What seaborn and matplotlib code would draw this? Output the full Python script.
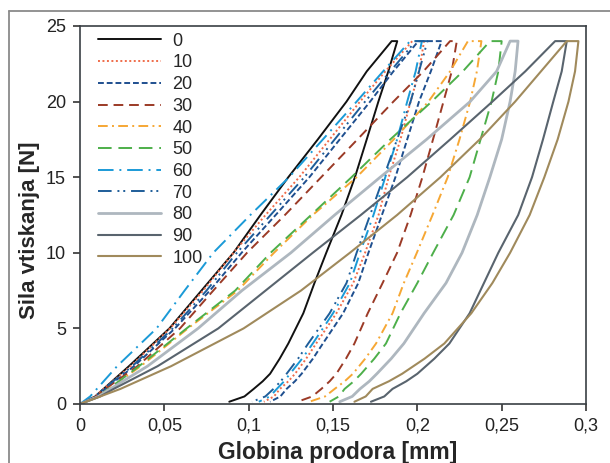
import matplotlib
matplotlib.use("Agg")
import matplotlib.pyplot as plt
from matplotlib.lines import Line2D
import seaborn as sns
import pandas as pd

F_LOAD = [0, 0.5, 1, 2.5, 5, 7.5, 10, 12.5, 15, 17.5, 20, 22, 24]
F_UNLOAD = [24, 22, 20, 17.5, 15, 12.5, 10, 8, 6, 4, 3, 2, 1.5, 1, 0.5, 0.15]

# depth (mm), loading branch
load_0 = [0, 0.009, 0.014, 0.029, 0.053, 0.072, 0.091, 0.107, 0.1235, 0.141, 0.158, 0.170, 0.1848]
load_10 = [0, 0.009, 0.014, 0.030, 0.0534, 0.073, 0.091, 0.110, 0.130, 0.148, 0.166, 0.181, 0.197]
load_20 = [0, 0.010, 0.015, 0.032, 0.0563, 0.077, 0.0958, 0.116, 0.136, 0.154, 0.172, 0.1858, 0.2006]
load_30 = [0, 0.010, 0.015, 0.034, 0.0593, 0.079, 0.099, 0.1215, 0.143, 0.1645, 0.1858, 0.2036, 0.2194]
load_40 = [0, 0.011, 0.017, 0.036, 0.064, 0.0935, 0.115, 0.138, 0.164, 0.186, 0.2066, 0.2194, 0.230]
load_50 = [0, 0.011, 0.017, 0.035, 0.0632, 0.092, 0.113, 0.137, 0.161, 0.184, 0.2085, 0.227, 0.2431]
load_60 = [0, 0.006, 0.010, 0.022, 0.0454, 0.062, 0.079, 0.101, 0.124, 0.144, 0.164, 0.1797, 0.1957]
load_70 = [0, 0.009, 0.014, 0.031, 0.055, 0.075, 0.093, 0.113, 0.133, 0.151, 0.169, 0.184, 0.199]
load_80 = [0, 0.011, 0.018, 0.040, 0.070, 0.096, 0.125, 0.151, 0.178, 0.2055, 0.2313, 0.247, 0.255]
load_90 = [0, 0.012, 0.020, 0.046, 0.082, 0.110, 0.138, 0.1665, 0.194, 0.2195, 0.2445, 0.264, 0.2817]
load_100 = [0, 0.012, 0.024, 0.054, 0.097, 0.131, 0.160, 0.188, 0.2137, 0.237, 0.258, 0.2733, 0.2886]

# depth (mm), unloading branch
unload_0 = [0.1881, 0.1828, 0.1769, 0.170, 0.163, 0.155, 0.146, 0.139, 0.1324, 0.1235, 0.1184,
            0.1127, 0.1083, 0.103, 0.0975, 0.0885]
unload_10 = [0.204, 0.201, 0.196, 0.190, 0.183, 0.177, 0.169, 0.162, 0.152, 0.140, 0.1341,
             0.1275, 0.1235, 0.1186, 0.1150, 0.109]
unload_20 = [0.2144, 0.208, 0.201, 0.194, 0.187, 0.179, 0.171, 0.165, 0.156, 0.144, 0.1381,
             0.1314, 0.1274, 0.1225, 0.1188, 0.1127]
unload_30 = [0.2234, 0.2204, 0.2155, 0.2093, 0.203, 0.196, 0.188, 0.1794, 0.1706, 0.1627, 0.1577,
             0.152, 0.148, 0.1431, 0.1377, 0.129]
unload_40 = [0.238, 0.2353, 0.2313, 0.225, 0.218, 0.209, 0.1997, 0.192, 0.1853, 0.1755, 0.1691,
             0.1618, 0.1569, 0.151, 0.1453, 0.136]
unload_50 = [0.250, 0.248, 0.244, 0.2375, 0.231, 0.2215, 0.2094, 0.200, 0.190, 0.1814, 0.1745,
             0.1667, 0.1623, 0.1569, 0.1535, 0.148]
unload_60 = [0.2027, 0.199, 0.194, 0.188, 0.181, 0.174, 0.166, 0.160, 0.150, 0.138, 0.1317,
             0.1245, 0.1210, 0.1167, 0.1126, 0.106]
unload_70 = [0.206, 0.201, 0.196, 0.188, 0.180, 0.172, 0.164, 0.158, 0.148, 0.1353, 0.1293,
             0.1225, 0.1190, 0.1147, 0.1099, 0.102]
unload_80 = [0.2597, 0.258, 0.255, 0.250, 0.243, 0.2355, 0.2265, 0.217, 0.204, 0.192, 0.1845,
             0.176, 0.1715, 0.166, 0.1614, 0.154]
unload_90 = [0.2886, 0.2856, 0.2806, 0.2745, 0.268, 0.2598, 0.248, 0.2395, 0.231, 0.219, 0.2101,
             0.200, 0.1934, 0.1853, 0.1804, 0.1725]
unload_100 = [0.2955, 0.2935, 0.2896, 0.2832, 0.2753, 0.2666, 0.255, 0.2445, 0.232, 0.216, 0.2043,
              0.191, 0.1831, 0.1735, 0.1694, 0.1627]

labels = ["0", "10", "20", "30", "40", "50", "60", "70", "80", "90", "100"]
loads = [load_0, load_10, load_20, load_30, load_40, load_50, load_60, load_70, load_80, load_90, load_100]
unloads = [unload_0, unload_10, unload_20, unload_30, unload_40, unload_50, unload_60, unload_70,
           unload_80, unload_90, unload_100]

x_ticks = [0, 0.05, 0.1, 0.15, 0.2, 0.25, 0.3]
x_ticklabels = ["0", "0,05", "0,1", "0,15", "0,2", "0,25", "0,3"]
y_ticks = [0, 5, 10, 15, 20, 25]

colors = ["#111111", "#EF6C4A", "#1F4F8F", "#9B3A26", "#F6A734", "#4DAF4A",
          "#1B9AD7", "#1E5D99", "#AEB7BF", "#59646E", "#A08A5C"]
styles = ["-", (0, (1, 1.3)), (0, (3, 1.5)), (0, (5, 3)), (0, (5, 2.2, 1, 2.2)),
          (0, (7, 3.5)), (0, (8, 3, 1, 3)), (0, (7, 3, 1, 2, 1, 3)), "-", "-", "-"]
widths = [1.4, 1.4, 1.4, 1.4, 1.4, 1.4, 1.4, 1.4, 2.0, 1.5, 1.5]

sns.set_theme(style="white")
plt.rcParams["font.family"] = ["Liberation Sans", "DejaVu Sans"]

fig = plt.figure(figsize=(6.1, 4.63), dpi=100)
ax = fig.add_axes([80 / 610, 59 / 463, 506 / 610, 378 / 463])

for lab, hl, hu, c, ls, lw in zip(labels, loads, unloads, colors, styles, widths):
    df = pd.DataFrame({"h": hl + hu, "F": F_LOAD + F_UNLOAD})
    sns.lineplot(data=df, x="h", y="F", sort=False, estimator=None, color=c,
                 linestyle=ls, linewidth=lw, label=lab, ax=ax)

ax.set_xlim(0, 0.3)
ax.set_ylim(0, 25)
ax.set_xticks(x_ticks)
ax.set_xticklabels(x_ticklabels)
ax.set_yticks(y_ticks)
ax.tick_params(axis="both", labelsize=13, colors="#222222", direction="out",
               length=5, width=1.1, bottom=True, left=True, pad=5)
for s in ax.spines.values():
    s.set_color("#3a3f44")
    s.set_linewidth(1.2)

ax.set_xlabel("Globina prodora [mm]", fontsize=16.5, fontweight="bold")
ax.set_ylabel("Sila vtiskanja [N]", fontsize=16, fontweight="bold")
ax.xaxis.set_label_coords(0.51, -0.097)
ax.yaxis.set_label_coords(-0.08, 0.46)

ax.legend(loc="upper left", bbox_to_anchor=(0.036, 0.982), frameon=False, borderpad=0,
          borderaxespad=0, fontsize=13, handlelength=3.45, handletextpad=0.65,
          labelspacing=0.26)

# grey frame around the chart (left and top edges fall inside the image)
frame_kw = dict(transform=fig.transFigure, color="#8a8a8a", linewidth=1.3)
fig.add_artist(Line2D([9 / 610, 9 / 610], [0, 1 - 11 / 463], **frame_kw))
fig.add_artist(Line2D([9 / 610, 1], [1 - 11 / 463, 1 - 11 / 463], **frame_kw))

fig.savefig("out.png", dpi=100)
